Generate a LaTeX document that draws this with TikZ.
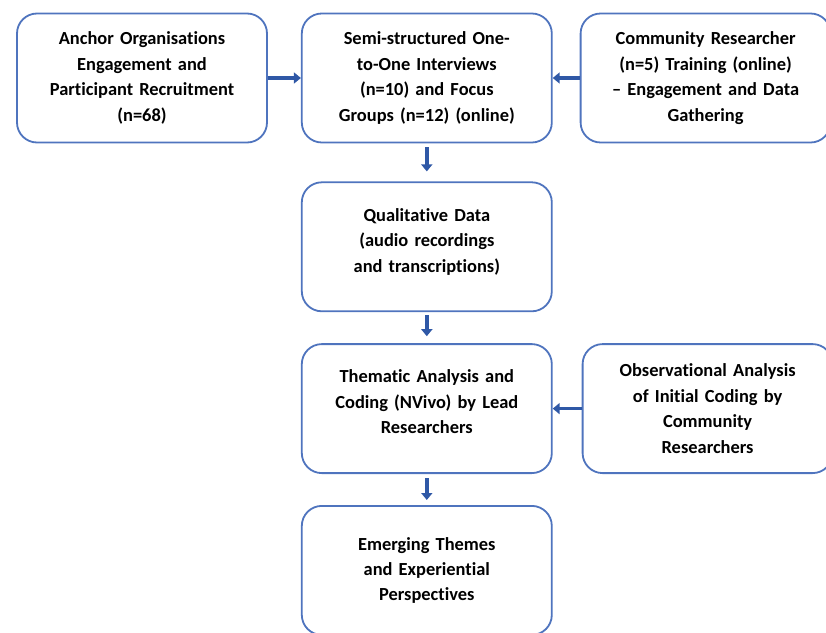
\documentclass[tikz,border=0pt]{standalone}
\usepackage{fontspec}
\setmainfont{Carlito}[Ligatures={NoCommon}]
\usepackage{tikz}
\usepackage{xcolor}
\usetikzlibrary{positioning}
\usetikzlibrary{arrows.meta}
\definecolor{boxline}{RGB}{79, 116, 190}
\definecolor{arrowcol}{RGB}{47, 88, 166}
\tikzstyle{stage} = [
	draw=boxline,
	line width=1.8bp,
	rounded corners=20bp,
	fill=white,
	minimum width=250bp,
	minimum height=129bp,
	text width=232bp,
	align=center,
	font=\fontsize{18.5}{25.5}\selectfont\bfseries,
]
\tikzstyle{flow} = [
	-{Triangle[length=7bp, width=11bp]},
	line width=3.6bp,
	draw=arrowcol,
]

\begin{document}
\begin{tikzpicture}[x=1bp, y=-1bp, node distance=36bp and 32bp]
	\useasboundingbox (0,0) rectangle (826,633);

	%
	% Top row
	\node[stage] at (142,78) (anchor) {Anchor Organisations\\Engagement and\\Participant Recruitment\\(n=68)};
	\node[stage, right=33bp of anchor] (interviews) {Semi-structured One-\\to-One Interviews\\(n=10) and Focus\\Groups (n=12) (online)};
	\node[stage, right=27bp of interviews] (training) {Community Researcher\\(n=5) Training (online)\\-- Engagement and Data\\Gathering};

	%
	% Middle column
	\node[stage, below=38bp of interviews] (qualdata) {Qualitative Data\\(audio recordings\\and transcriptions)\\[-20bp]\strut};
	\node[stage, below=31bp of qualdata] (thematic) {Thematic Analysis and\\Coding (NVivo) by Lead\\Researchers\\[-19bp]\strut};
	\node[stage, right=29bp of thematic] (observ) {Observational Analysis\\of Initial Coding by\\Community\\Researchers};
	\node[stage, below=31bp of thematic] (themes) {Emerging Themes\\and Experiential\\Perspectives};

	%
	% Arrows
	\draw[flow] ([yshift=-4bp]interviews.south) -- ([yshift=10bp]qualdata.north);
	\draw[flow] ([yshift=-3bp]qualdata.south) -- ([yshift=7bp]thematic.north);
	\draw[flow] ([yshift=-4bp]thematic.south) -- ([yshift=5bp]themes.north);
	\draw[flow] (anchor.east) -- (interviews.west);
	\draw[flow] (training.west) -- (interviews.east);
	\draw[flow] (observ.west) -- (thematic.east);

\end{tikzpicture}
\end{document}
